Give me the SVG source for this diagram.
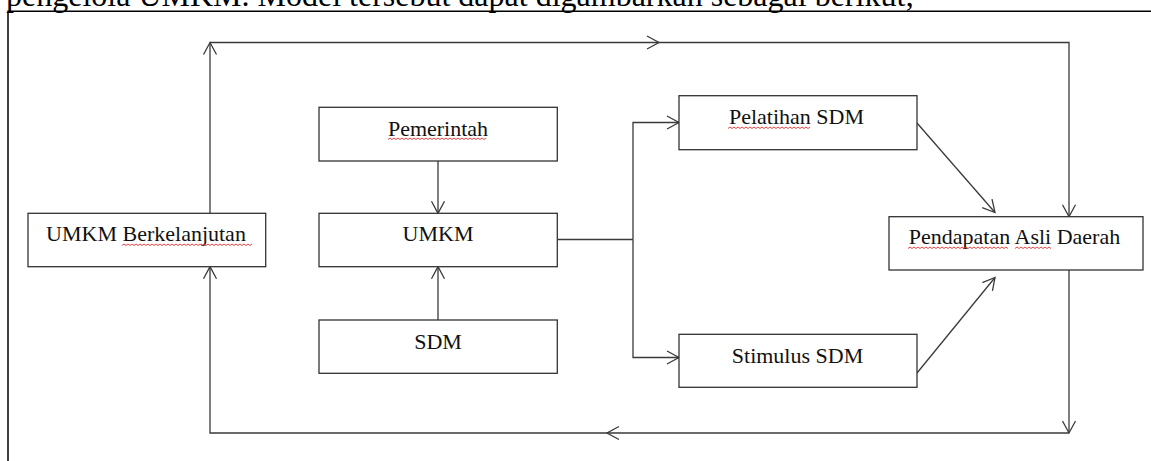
<svg xmlns="http://www.w3.org/2000/svg" width="1151" height="461" viewBox="0 0 1151 461">
<style>
.box{fill:#fff;stroke:#333;stroke-width:1.3}
.lbl{font-family:"Liberation Serif","Times New Roman",serif;font-size:22px;fill:#111;text-anchor:middle}
.top{font-family:"Liberation Serif","Times New Roman",serif;font-size:32px;fill:#000}
.con{fill:none;stroke:#3a3a3a;stroke-width:1.3}
.sq{fill:none;stroke:#e03030;stroke-width:0.9}
.frame{fill:none;stroke:#000;stroke-width:1.5}
</style>
<defs>
<marker id="ah" markerUnits="userSpaceOnUse" markerWidth="16" markerHeight="16" viewBox="-14 -8 16 16" refX="0" refY="0" orient="auto" overflow="visible">
<path d="M-12,-6.5 L0,0 L-12,6.5" fill="none" stroke="#3a3a3a" stroke-width="1.3"/>
</marker>
</defs>
<rect width="1151" height="461" fill="#fff"/>
<text class="top" x="6" y="6">pengelola UMKM. Model tersebut dapat digambarkan sebagai berikut;</text>
<path class="frame" d="M8,461 V11.3 H1151"/>
<g id="connectors">
<path class="con" d="M210,267 V42.5" marker-end="url(#ah)"/>
<path class="con" d="M210,42.5 H659" marker-end="url(#ah)"/>
<path class="con" d="M659,42.5 H1069 V216.7" marker-end="url(#ah)"/>
<path class="con" d="M1069,270 V433" marker-end="url(#ah)"/>
<path class="con" d="M1069,433 H607" marker-end="url(#ah)"/>
<path class="con" d="M607,433 H210 V266.7" marker-end="url(#ah)"/>
<path class="con" d="M438,161 V213.3" marker-end="url(#ah)"/>
<path class="con" d="M438,320 V266.7" marker-end="url(#ah)"/>
<path class="con" d="M557,239.5 H633"/>
<path class="con" d="M633,239.5 V122.5 H679" marker-end="url(#ah)"/>
<path class="con" d="M633,239.5 V357.5 H679" marker-end="url(#ah)"/>
<path class="con" d="M917,123 L995,212.5" marker-end="url(#ah)"/>
<path class="con" d="M917,373 L995,277.5" marker-end="url(#ah)"/>
</g>
<g id="umkm-berkelanjutan">
<rect class="box" x="28" y="213.3" width="237.7" height="53.4"/>
<text class="lbl" x="146" y="241">UMKM Berkelanjutan</text>
<path class="sq" d="M122,245.5 l2,-1.5 l2,1.5 l2,-1.5 l2,1.5 l2,-1.5 l2,1.5 l2,-1.5 l2,1.5 l2,-1.5 l2,1.5 l2,-1.5 l2,1.5 l2,-1.5 l2,1.5 l2,-1.5 l2,1.5 l2,-1.5 l2,1.5 l2,-1.5 l2,1.5 l2,-1.5 l2,1.5 l2,-1.5 l2,1.5 l2,-1.5 l2,1.5 l2,-1.5 l2,1.5 l2,-1.5 l2,1.5 l2,-1.5 l2,1.5 l2,-1.5 l2,1.5 l2,-1.5 l2,1.5 l2,-1.5 l2,1.5 l2,-1.5 l2,1.5 l2,-1.5 l2,1.5 l2,-1.5 l2,1.5 l2,-1.5 l2,1.5 l2,-1.5 l2,1.5 l2,-1.5 l2,1.5 l2,-1.5 l2,1.5 l2,-1.5 l2,1.5 l2,-1.5 l2,1.5 l2,-1.5 l2,1.5 l2,-1.5 l2,1.5 l2,-1.5 l2,1.5 l2,-1.5 l2,1.5 l2,-1.5"/>
</g>
<g id="pemerintah">
<rect class="box" x="319" y="107.3" width="238.3" height="53.7"/>
<text class="lbl" x="438" y="135.5">Pemerintah</text>
<path class="sq" d="M388,139.5 l2,-1.5 l2,1.5 l2,-1.5 l2,1.5 l2,-1.5 l2,1.5 l2,-1.5 l2,1.5 l2,-1.5 l2,1.5 l2,-1.5 l2,1.5 l2,-1.5 l2,1.5 l2,-1.5 l2,1.5 l2,-1.5 l2,1.5 l2,-1.5 l2,1.5 l2,-1.5 l2,1.5 l2,-1.5 l2,1.5 l2,-1.5 l2,1.5 l2,-1.5 l2,1.5 l2,-1.5 l2,1.5 l2,-1.5 l2,1.5 l2,-1.5 l2,1.5 l2,-1.5 l2,1.5 l2,-1.5 l2,1.5 l2,-1.5 l2,1.5 l2,-1.5 l2,1.5 l2,-1.5 l2,1.5 l2,-1.5 l2,1.5 l2,-1.5 l2,1.5 l2,-1.5"/>
</g>
<g id="umkm">
<rect class="box" x="319" y="213.3" width="238.3" height="53.4"/>
<text class="lbl" x="438" y="241">UMKM</text>
</g>
<g id="sdm">
<rect class="box" x="319" y="320" width="238.3" height="53.3"/>
<text class="lbl" x="438" y="348.5">SDM</text>
</g>
<g id="pelatihan-sdm">
<rect class="box" x="679" y="95.7" width="238" height="54"/>
<text class="lbl" x="796.5" y="124">Pelatihan SDM</text>
<path class="sq" d="M728,128.5 l2,-1.5 l2,1.5 l2,-1.5 l2,1.5 l2,-1.5 l2,1.5 l2,-1.5 l2,1.5 l2,-1.5 l2,1.5 l2,-1.5 l2,1.5 l2,-1.5 l2,1.5 l2,-1.5 l2,1.5 l2,-1.5 l2,1.5 l2,-1.5 l2,1.5 l2,-1.5 l2,1.5 l2,-1.5 l2,1.5 l2,-1.5 l2,1.5 l2,-1.5 l2,1.5 l2,-1.5 l2,1.5 l2,-1.5 l2,1.5 l2,-1.5 l2,1.5 l2,-1.5 l2,1.5 l2,-1.5 l2,1.5 l2,-1.5 l2,1.5 l2,-1.5"/>
</g>
<g id="stimulus-sdm">
<rect class="box" x="679" y="334.3" width="238" height="53"/>
<text class="lbl" x="797.5" y="362.5">Stimulus SDM</text>
</g>
<g id="pendapatan-asli-daerah">
<rect class="box" x="889" y="216.7" width="254" height="53.3"/>
<text class="lbl" x="1014.5" y="244">Pendapatan Asli Daerah</text>
<path class="sq" d="M908,248.5 l2,-1.5 l2,1.5 l2,-1.5 l2,1.5 l2,-1.5 l2,1.5 l2,-1.5 l2,1.5 l2,-1.5 l2,1.5 l2,-1.5 l2,1.5 l2,-1.5 l2,1.5 l2,-1.5 l2,1.5 l2,-1.5 l2,1.5 l2,-1.5 l2,1.5 l2,-1.5 l2,1.5 l2,-1.5 l2,1.5 l2,-1.5 l2,1.5 l2,-1.5 l2,1.5 l2,-1.5 l2,1.5 l2,-1.5 l2,1.5 l2,-1.5 l2,1.5 l2,-1.5 l2,1.5 l2,-1.5 l2,1.5 l2,-1.5 l2,1.5 l2,-1.5 l2,1.5 l2,-1.5 l2,1.5 l2,-1.5 l2,1.5 l2,-1.5 l2,1.5 l2,-1.5 l2,1.5"/>
<path class="sq" d="M1015,248.5 l2,-1.5 l2,1.5 l2,-1.5 l2,1.5 l2,-1.5 l2,1.5 l2,-1.5 l2,1.5 l2,-1.5 l2,1.5 l2,-1.5 l2,1.5 l2,-1.5 l2,1.5 l2,-1.5 l2,1.5 l2,-1.5 l2,1.5"/>
</g>
</svg>
